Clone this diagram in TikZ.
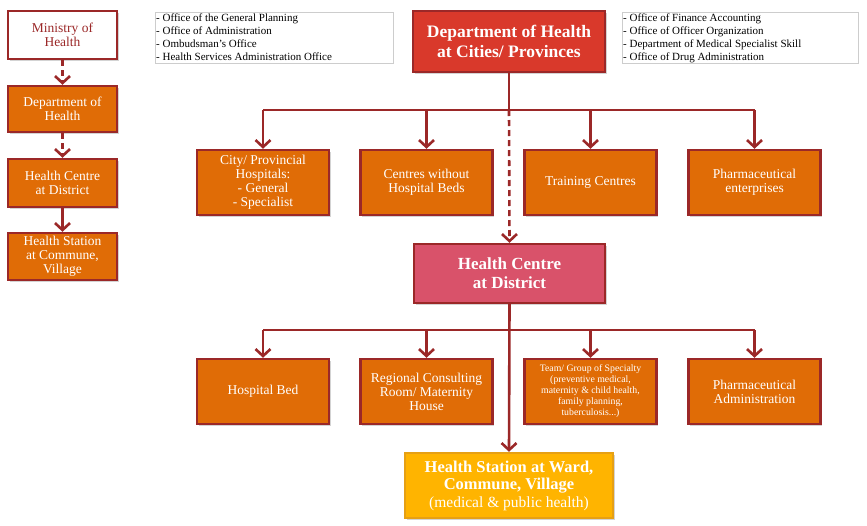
\documentclass[tikz,border=0pt]{standalone}
\usepackage{fontspec}
\setmainfont{Liberation Serif}
\usetikzlibrary{arrows.meta,shadows}
\definecolor{bord}{RGB}{155,40,40}
\definecolor{orng}{RGB}{224,108,6}
\definecolor{redb}{RGB}{217,57,43}
\definecolor{pinkb}{RGB}{217,82,106}
\definecolor{goldb}{RGB}{255,180,0}
\definecolor{goldd}{RGB}{230,160,20}
\definecolor{notegray}{RGB}{205,205,205}
\tikzset{
  box/.style={draw=bord, line width=2.4pt, fill=orng, text=white, align=center, inner sep=1pt,
    font=\fontsize{13.5}{14}\selectfont, drop shadow={shadow xshift=1.5pt,shadow yshift=-1.5pt,opacity=0.35}},
  notebox/.style={draw=notegray, line width=0.8pt, fill=white},
  notetext/.style={align=left, inner sep=0pt, anchor=north west, font=\fontsize{11}{13}\selectfont},
  conn/.style={draw=bord, line width=2.6pt},
  arr/.style={conn, -{Straight Barb[length=7pt,width=15pt]}},
  darr/.style={arr, dash pattern=on 6pt off 4pt},
}
\begin{document}
\begin{tikzpicture}[x=1pt,y=-1pt]
\useasboundingbox (0,0) rectangle (867,525);
% left column
\node[box, fill=white, text=bord, minimum width=109, minimum height=48] (mini) at (62.5,35) {Ministry of\\Health};
\node[box, minimum width=109, minimum height=46] (dept) at (62.5,109) {Department of\\Health};
\node[box, minimum width=109, minimum height=48] (hcd) at (62.5,183) {Health Centre\\at District};
\node[box, minimum width=109, minimum height=47] (hs) at (62.5,256.5) {Health Station\\at Commune,\\Village};
\draw[darr] (mini) -- (dept);
\draw[darr] (dept) -- (hcd);
\draw[arr] (hcd) -- (hs);
% notes
\node[notebox, minimum width=238, minimum height=51, anchor=north west] (n1) at (155,12) {};
\node[notetext] (n1t) at (156,13.5) {- Office of the General Planning\\- Office of Administration\\- Ombudsman's Office\\- Health Services Administration Office};
\node[notebox, minimum width=236, minimum height=51, anchor=north west] (n2) at (622,12) {};
\node[notetext] (n2t) at (623,13.5) {- Office of Finance Accounting\\- Office of Officer Organization\\- Department of Medical Specialist Skill\\- Office of Drug Administration};
% top
\node[box, fill=redb, minimum width=192, minimum height=61, font=\fontsize{17.5}{20}\selectfont\bfseries] (dhc) at (509,41.5) {Department of Health\\at Cities/ Provinces};
\node[box, minimum width=132, minimum height=65] (r1a) at (263,182.5) {City/ Provincial\\Hospitals:\\- General\\- Specialist};
\node[box, minimum width=132, minimum height=65] (r1b) at (426.5,182.5) {Centres without\\Hospital Beds};
\node[box, minimum width=132, minimum height=65] (r1c) at (590.5,182.5) {Training Centres};
\node[box, minimum width=132, minimum height=65] (r1d) at (754.5,182.5) {Pharmaceutical\\enterprises};
\node[box, fill=pinkb, minimum width=191, minimum height=59, font=\fontsize{17}{19}\selectfont\bfseries] (hcc) at (509.5,273.5) {Health Centre\\at District};
\node[box, minimum width=132, minimum height=65] (r2a) at (263,391.5) {Hospital Bed};
\node[box, minimum width=132, minimum height=65] (r2b) at (426.5,391.5) {Regional Consulting\\Room/ Maternity\\House};
\node[box, minimum width=132, minimum height=65, font=\fontsize{9.8}{11}\selectfont] (r2c) at (590.5,391.5) {Team/ Group of Specialty\\(preventive medical,\\maternity \& child health,\\family planning,\\tuberculosis...)};
\node[box, minimum width=132, minimum height=65] (r2d) at (754.5,391.5) {Pharmaceutical\\Administration};
\node[box, draw=goldd, fill=goldb, minimum width=208, minimum height=65, font=\fontsize{16.5}{17.5}\selectfont] (hsw) at (509,485.5) {\textbf{Health Station at Ward,}\\\textbf{Commune, Village}\\{\fontsize{15.5}{17.5}\selectfont(medical \& public health)}};
% connectors top
\coordinate (j1) at (509,110);
\coordinate (l1) at (263,110);
\coordinate (rr1) at (754.5,110);
\draw[conn] (dhc.south) -- (j1);
\draw[conn] (l1) -- (rr1);
\draw[arr] (l1) -- (r1a.north);
\draw[arr] (l1 -| r1b) -- (r1b.north);
\draw[arr] (l1 -| r1c) -- (r1c.north);
\draw[arr] (rr1) -- (r1d.north);
\draw[darr] (j1) -- (hcc.north);
% connectors bottom
\coordinate (j2) at (509.5,330);
\coordinate (l2) at (263,330);
\coordinate (rr2) at (754.5,330);
\draw[conn] (l2) -- (rr2);
\draw[arr] (l2) -- (r2a.north);
\draw[arr] (l2 -| r2b) -- (r2b.north);
\draw[arr] (l2 -| r2c) -- (r2c.north);
\draw[arr] (rr2) -- (r2d.north);
\draw[arr] (hcc.south) -- (hsw.north);
\end{tikzpicture}
\end{document}
